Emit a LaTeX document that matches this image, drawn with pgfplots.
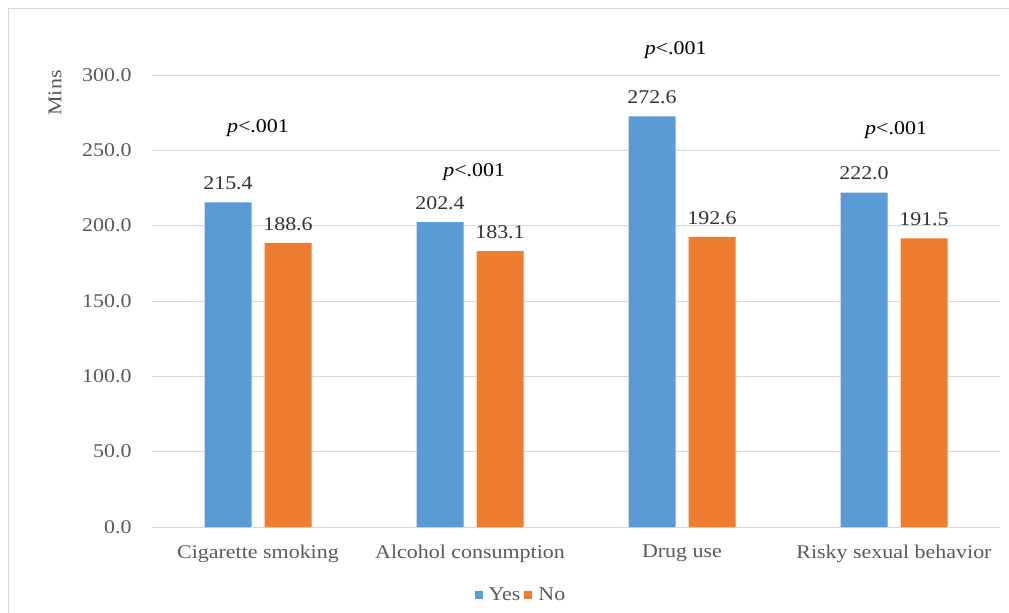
\documentclass[border=0pt]{standalone}
\usepackage{pgfplots}
\pgfplotsset{compat=1.18}
\usepackage{fontspec}
\setmainfont{Liberation Serif}[FakeStretch=1.13]
\definecolor{cblue}{HTML}{5B9BD5}
\definecolor{corange}{HTML}{ED7D31}
\definecolor{tickgray}{HTML}{595959}
\definecolor{gridgray}{HTML}{D9D9D9}
\begin{document}
\begin{tikzpicture}[font=\fontsize{19.5}{23}\selectfont]
\useasboundingbox (0,0) rectangle (1009bp,613bp);
\draw[gridgray,line width=0.8bp] (8bp,-2bp) -- (8bp,605bp) -- (1012bp,605bp);
\begin{axis}[
  at={(152bp,86bp)}, anchor=south west,
  scale only axis, width=848bp, height=452bp,
  ymin=0, ymax=300, ytick={0,50,...,300},
  xmin=-0.5, xmax=3.5,
  xtick={0,1,2,3},
  xticklabels={Cigarette smoking, Alcohol consumption, Drug use, Risky sexual behavior},
  axis line style={draw=none},
  major tick length=0pt,
  ymajorgrids, grid style={gridgray, line width=0.8bp},
  ybar=13bp, bar width=47bp,
  clip=false,
  /pgf/number format/.cd, fixed, fixed zerofill, precision=1, assume math mode=true, /pgfplots/.cd,
  yticklabel style={text=tickgray},
  yticklabel shift=17bp,
  xticklabel style={text=tickgray, yshift=-14bp},
  nodes near coords,
  nodes near coords style={text=black!80, anchor=south, yshift=9bp},
  legend style={at={(0.435,-0.15)}, anchor=center, draw=none, fill=none, legend columns=2,
    /tikz/every even column/.append style={column sep=2bp}, text=tickgray},
  legend image code/.code={\fill[#1,draw=none] (0bp,-4bp) rectangle (8bp,4bp); \path (12bp,0bp);},
]
\addplot[fill=cblue, draw=none] coordinates {(0,215.4) (1,202.4) (2,272.6) (3,222.0)};
\addplot[fill=corange, draw=none] coordinates {(0,188.6) (1,183.1) (2,192.6) (3,191.5)};
\legend{Yes, No}
\node[text=black] at (axis cs:0,264.8) {\textit{p}<.001};
\node[text=black] at (axis cs:1.02,235.6) {\textit{p}<.001};
\node[text=black] at (axis cs:1.97,316.5) {\textit{p}<.001};
\node[text=black] at (axis cs:3.01,263.4) {\textit{p}<.001};
\end{axis}
\node[rotate=90, text=tickgray] at (55bp,520bp) {Mins};
\end{tikzpicture}
\end{document}
